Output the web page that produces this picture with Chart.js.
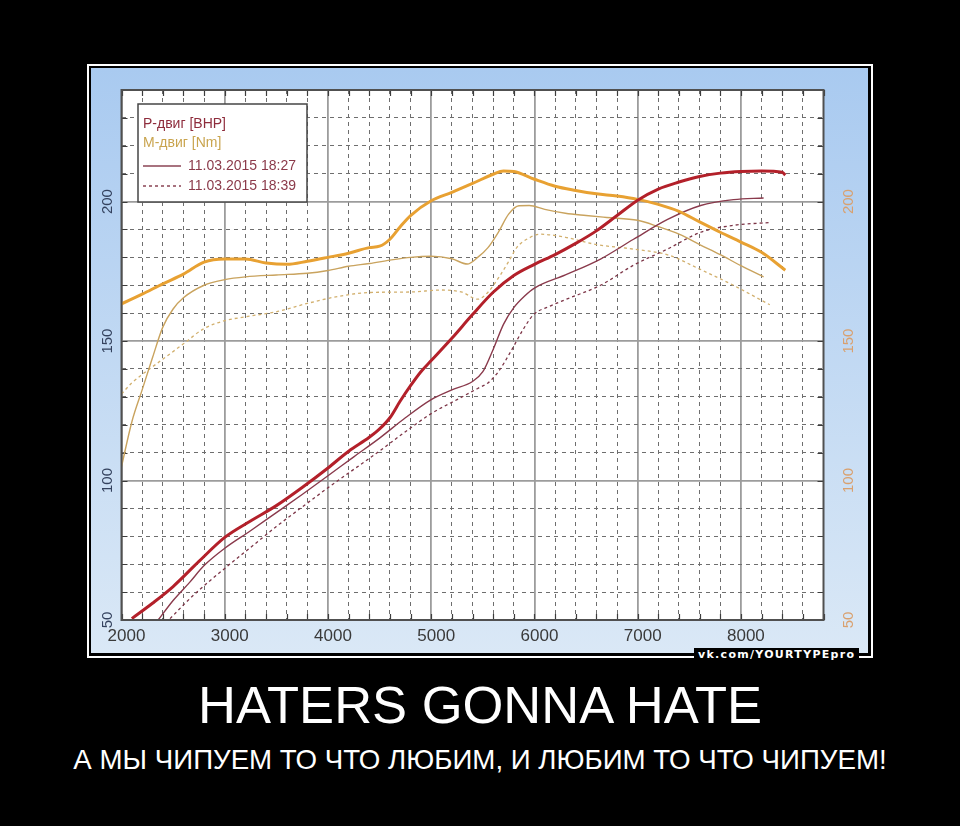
<!DOCTYPE html>
<html>
<head>
<meta charset="utf-8">
<title>Dyno chart</title>
<script src="https://cdn.jsdelivr.net/npm/chart.js@4.4.1/dist/chart.umd.min.js"></script>
<style>
  html, body { margin: 0; padding: 0; background: #000; }
  body { width: 960px; height: 826px; position: relative; overflow: hidden; font-family: "Liberation Sans", Arial, sans-serif; }
  #frame { position: absolute; left: 87px; top: 64px; width: 786px; height: 594px; box-sizing: border-box; border: 2px solid #fff; }
  #wrap { position: absolute; left: 91px; top: 68px; width: 777px; height: 585px; background: linear-gradient(to bottom, #a9caf0, #dae8f6); }
  #mark { position: absolute; left: 694px; top: 648px; height: 17px; line-height: 17px; padding: 0 4px; background: #000; color: #fff; font: bold 11px "DejaVu Sans", sans-serif; letter-spacing: 1.3px; }
  .title { position: absolute; left: 0; width: 960px; text-align: center; color: #fff; white-space: nowrap; }
  #t1 { top: 679px; font-size: 52.5px; line-height: 52px; }
  #t2 { top: 746px; font-size: 27.7px; line-height: 28px; }
</style>
</head>
<body>
<div id="frame"></div>
<div id="wrap"><canvas id="dyno" width="777" height="585"></canvas></div>
<div id="mark">vk.com/YOURTYPEpro</div>
<div class="title" id="t1">HATERS GONNA HATE</div>
<div class="title" id="t2">А МЫ ЧИПУЕМ ТО ЧТО ЛЮБИМ, И ЛЮБИМ ТО ЧТО ЧИПУЕМ!</div>
<script>
// torque, thick line
const rpmTorqueA = [2000, 2200, 2400, 2600, 2800, 3000, 3200, 3400, 3600, 3800, 4000, 4200, 4400, 4500, 4600, 4700, 4800, 5000, 5200, 5400, 5600, 5700, 5800, 6000, 6200, 6400, 6600, 6800, 7000, 7200, 7400, 7600, 7800, 8000, 8200, 8430];
const torqueA = [163.3, 166.8, 170.5, 174, 178.3, 179.4, 179.4, 178, 177.5, 178.6, 180, 181.5, 183.5, 184, 186.5, 191, 195, 200.3, 203.3, 206.5, 209.8, 211, 210.8, 208, 205.5, 204, 202.8, 202, 200.8, 199, 196.5, 192.7, 189, 185.5, 181.8, 175.4];

// torque 18:27
const rpmTorqueB = [2000, 2100, 2200, 2300, 2400, 2500, 2600, 2800, 3000, 3200, 3500, 3800, 4000, 4200, 4400, 4600, 4800, 5000, 5200, 5350, 5450, 5550, 5650, 5750, 5850, 5950, 6100, 6300, 6500, 6700, 7000, 7200, 7400, 7600, 7800, 8000, 8220];
const torqueB = [105, 121, 132.5, 144, 155, 161.5, 165.5, 170, 172, 173, 173.7, 174.3, 175.3, 176.8, 177.8, 179, 180, 180.4, 179.5, 177.6, 180, 183.5, 189, 195.5, 198.5, 198.6, 197.2, 195.8, 195, 194.3, 193.3, 191, 188.3, 184.6, 181, 177, 173];

// torque 18:39
const rpmTorqueC = [2000, 2100, 2200, 2400, 2600, 2800, 3000, 3200, 3500, 3800, 4100, 4400, 4800, 5100, 5300, 5450, 5550, 5670, 5750, 5830, 5950, 6055, 6300, 6600, 6950, 7300, 7600, 7900, 8280];
const torqueC = [131, 135, 138, 143.5, 149, 154.5, 157.3, 158.7, 160.5, 163.5, 166, 167.4, 167.6, 168.3, 167.5, 165, 167.5, 173.7, 178.5, 183.6, 187, 188.3, 187.2, 184.6, 183, 180.8, 175.8, 170.5, 163];

// power, thick line
const rpmPowerA = [2100, 2300, 2500, 2750, 3000, 3250, 3500, 3750, 4000, 4200, 4400, 4500, 4600, 4700, 4800, 4900, 5000, 5200, 5400, 5600, 5800, 6000, 6200, 6400, 6600, 6800, 7000, 7200, 7400, 7600, 7800, 8000, 8200, 8400, 8430];
const powerA = [50.5, 56, 62, 71, 79.6, 85.5, 91, 97.5, 104.5, 110.5, 115.5, 118.5, 122.5, 128.5, 134, 139, 143, 151, 159.5, 167.5, 173.5, 177.5, 181, 185, 189.5, 195, 200.5, 204.5, 207, 209, 210.2, 210.8, 211, 210.5, 209.5];

// power 18:27
const rpmPowerB = [2355, 2500, 2660, 2800, 3000, 3250, 3500, 3750, 4000, 4250, 4500, 4750, 5000, 5200, 5400, 5500, 5600, 5700, 5800, 5900, 6000, 6300, 6640, 6960, 7290, 7610, 7930, 8220];
const powerB = [50, 57, 63.5, 69.5, 75.7, 82, 88.5, 95, 101.7, 108.5, 115.2, 122.5, 129, 132.5, 135.5, 139, 147, 156, 162, 166, 169, 173.7, 179.4, 186.5, 193.6, 198.6, 200.7, 201.3];

// power 18:39
const rpmPowerC = [2470, 2700, 3000, 3250, 3500, 3750, 4000, 4250, 4500, 4750, 5000, 5250, 5450, 5550, 5650, 5770, 5880, 5990, 6150, 6310, 6640, 6960, 7290, 7610, 7930, 8280];
const powerC = [50.5, 59, 68.5, 76, 83.5, 90.5, 97.4, 104, 110.6, 117.5, 124, 129, 133, 135, 139, 146.2, 153.5, 159.4, 162.5, 165, 170, 177.2, 183, 189, 191.5, 192.5];

const xTickLabels = [2000, 3000, 4000, 5000, 6000, 7000, 8000];
const yTickLabels = [50, 100, 150, 200];
const legendLines = ['Р-двиг [BHP]', 'М-двиг [Nm]', '11.03.2015 18:27', '11.03.2015 18:39'];

function pts(xs, ys) {
  return xs.map((x, i) => ({ x: x, y: ys[i] }));
}

const isMajorX = v => v % 1000 === 0;
const isMajorY = v => v % 50 === 0;

// white plot area
const plotBg = {
  id: 'plotBg',
  beforeDraw(chart) {
    const a = chart.chartArea, ctx = chart.ctx;
    ctx.save();
    ctx.fillStyle = '#ffffff';
    ctx.fillRect(a.left, a.top, a.right - a.left, a.bottom - a.top);
    ctx.restore();
  }
};

// small tick marks inside the frame + frame line
const plotFrame = {
  id: 'plotFrame',
  beforeDatasetsDraw(chart) {
    const a = chart.chartArea, ctx = chart.ctx;
    const xs = chart.scales.x, ys = chart.scales.y;
    ctx.save();
    ctx.strokeStyle = '#3c3c3c';
    ctx.lineWidth = 1.2;
    ctx.beginPath();
    xs.ticks.forEach(t => {
      const px = Math.round(xs.getPixelForValue(t.value)) + 0.5;
      ctx.moveTo(px, a.top); ctx.lineTo(px, a.top + 6);
      ctx.moveTo(px, a.bottom); ctx.lineTo(px, a.bottom - 6);
    });
    ys.ticks.forEach(t => {
      const py = Math.round(ys.getPixelForValue(t.value)) + 0.5;
      ctx.moveTo(a.left, py); ctx.lineTo(a.left + 6, py);
      ctx.moveTo(a.right, py); ctx.lineTo(a.right - 6, py);
    });
    ctx.stroke();
    ctx.restore();
  },
  afterDraw(chart) {
    const a = chart.chartArea, ctx = chart.ctx;
    ctx.save();
    ctx.strokeStyle = '#505050';
    ctx.lineWidth = 2;
    ctx.strokeRect(a.left, a.top, a.right - a.left, a.bottom - a.top);
    ctx.restore();
  }
};

// legend box in the top left corner
const legendBox = {
  id: 'legendBox',
  afterDraw(chart) {
    const ctx = chart.ctx;
    const bx = 47, by = 36, bw = 169, bh = 98;
    ctx.save();
    ctx.fillStyle = '#ffffff';
    ctx.fillRect(bx, by, bw, bh);
    ctx.strokeStyle = '#454545';
    ctx.lineWidth = 1.5;
    ctx.strokeRect(bx, by, bw, bh);
    ctx.font = '14px "Liberation Sans", Arial, sans-serif';
    ctx.textBaseline = 'middle';
    ctx.fillStyle = '#8e2c3c';
    ctx.fillText(legendLines[0], 52, 56);
    ctx.fillStyle = '#c9a44e';
    ctx.fillText(legendLines[1], 52, 75);
    ctx.strokeStyle = '#8b4454';
    ctx.lineWidth = 1.3;
    ctx.beginPath();
    ctx.moveTo(52, 98); ctx.lineTo(90, 98);
    ctx.stroke();
    ctx.setLineDash([3, 3]);
    ctx.beginPath();
    ctx.moveTo(52, 118); ctx.lineTo(90, 118);
    ctx.stroke();
    ctx.setLineDash([]);
    ctx.fillStyle = '#8b3a4a';
    ctx.fillText(legendLines[2], 97, 98);
    ctx.fillText(legendLines[3], 97, 118);
    ctx.restore();
  }
};

const lineBase = { pointRadius: 0, fill: false, cubicInterpolationMode: 'monotone' };

const config = {
  type: 'line',
  data: {
    datasets: [
      Object.assign({ label: 'P thick', data: pts(rpmPowerA, powerA), borderColor: '#b3202a', borderWidth: 3, order: 0 }, lineBase),
      Object.assign({ label: 'M thick', data: pts(rpmTorqueA, torqueA), borderColor: '#e8a132', borderWidth: 3, order: 1, yAxisID: 'y2' }, lineBase),
      Object.assign({ label: 'P 18:27', data: pts(rpmPowerB, powerB), borderColor: '#8a3a4c', borderWidth: 1.4, order: 2 }, lineBase),
      Object.assign({ label: 'M 18:27', data: pts(rpmTorqueB, torqueB), borderColor: '#c9a35e', borderWidth: 1.4, order: 3, yAxisID: 'y2' }, lineBase),
      Object.assign({ label: 'P 18:39', data: pts(rpmPowerC, powerC), borderColor: '#7c3446', borderWidth: 1.3, borderDash: [3, 3], order: 4 }, lineBase),
      Object.assign({ label: 'M 18:39', data: pts(rpmTorqueC, torqueC), borderColor: '#d2b06e', borderWidth: 1.3, borderDash: [3, 3], order: 5, yAxisID: 'y2' }, lineBase)
    ]
  },
  options: {
    responsive: false,
    animation: false,
    devicePixelRatio: 1,
    layout: { padding: { top: 19, left: 0, right: 0, bottom: 0 } },
    plugins: { legend: { display: false }, tooltip: { enabled: false } },
    scales: {
      x: {
        type: 'linear',
        min: 2000,
        max: 8800,
        afterFit: s => { s.height = 33; },
        ticks: {
          stepSize: 200,
          autoSkip: false,
          maxRotation: 0,
          labelOffset: 5,
          padding: 6,
          color: '#3a3a3a',
          font: { size: 17, family: '"Liberation Sans", Arial, sans-serif' },
          callback: v => xTickLabels.includes(v) ? String(v) : ''
        },
        grid: {
          drawTicks: false,
          color: c => isMajorX(c.tick.value) ? '#9c9c9c' : '#6e6e6e',
          lineWidth: c => isMajorX(c.tick.value) ? 1.8 : 1
        },
        border: { display: false, dash: c => (c.tick && isMajorX(c.tick.value)) ? [] : [4, 4] }
      },
      y: {
        position: 'left',
        min: 50,
        max: 240,
        afterFit: s => { s.width = 30.5; },
        ticks: {
          stepSize: 10,
          autoSkip: false,
          minRotation: 90,
          maxRotation: 90,
          crossAlign: 'center',
          padding: 1,
          color: '#34425e',
          font: { size: 15, family: '"Liberation Sans", Arial, sans-serif' },
          callback: v => yTickLabels.includes(v) ? String(v) : ''
        },
        grid: {
          drawTicks: false,
          color: c => isMajorY(c.tick.value) ? '#9c9c9c' : '#6e6e6e',
          lineWidth: c => isMajorY(c.tick.value) ? 1.8 : 1
        },
        border: { display: false, dash: c => (c.tick && isMajorY(c.tick.value)) ? [] : [4, 4] }
      },
      y2: {
        position: 'right',
        min: 50,
        max: 240,
        afterFit: s => { s.width = 44.5; },
        ticks: {
          stepSize: 10,
          autoSkip: false,
          minRotation: 90,
          maxRotation: 90,
          crossAlign: 'center',
          padding: 13,
          color: '#d9a06e',
          font: { size: 15, family: '"Liberation Sans", Arial, sans-serif' },
          callback: v => yTickLabels.includes(v) ? String(v) : ''
        },
        grid: { drawOnChartArea: false, drawTicks: false },
        border: { display: false }
      }
    }
  },
  plugins: [plotBg, plotFrame, legendBox]
};

const ctx = document.getElementById('dyno').getContext('2d');
const chart = new Chart(ctx, config);
</script>
</body>
</html>
